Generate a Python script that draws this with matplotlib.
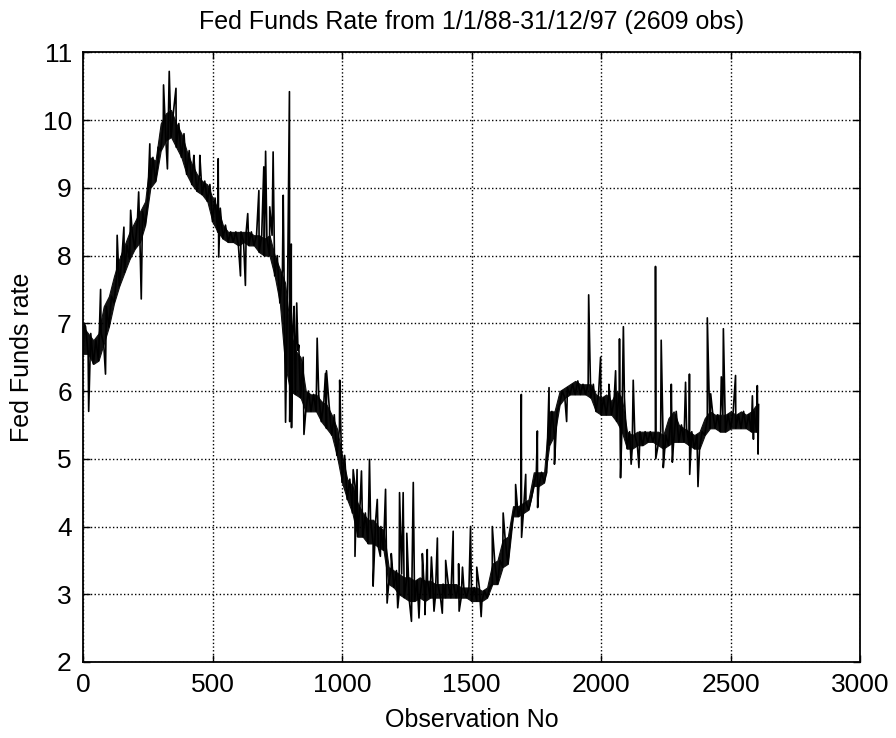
import matplotlib
matplotlib.use("Agg")
import matplotlib.pyplot as plt

plt.rcParams['font.family'] = ['Liberation Sans', 'DejaVu Sans']

title = "Fed Funds Rate from 1/1/88-31/12/97 (2609 obs)"
xlabel = "Observation No"
ylabel = "Fed Funds rate"
n_obs = 2609

# band of the daily series, read every 20 observations (lower, upper)
band_obs = list(range(0, 2601, 20))
band_lo = [6.55, 6.55, 6.40, 6.45, 6.70, 6.95, 7.30, 7.55, 7.75, 7.95,
           8.10, 8.20, 8.45, 9.00, 9.10, 9.55, 9.70, 9.75, 9.60, 9.45,
           9.20, 9.05, 8.95, 8.90, 8.80, 8.50, 8.35, 8.25, 8.20, 8.20,
           8.15, 8.20, 8.15, 8.15, 8.05, 8.00, 8.00, 7.70, 7.30, 6.40,
           6.00, 5.95, 5.90, 5.70, 5.70, 5.70, 5.55, 5.45, 5.35, 5.05,
           4.65, 4.40, 4.20, 3.85, 3.85, 3.75, 3.75, 3.70, 3.65, 3.15,
           3.10, 3.00, 2.95, 2.90, 2.90, 2.95, 2.90, 2.95, 2.95, 2.95,
           2.95, 2.95, 2.95, 2.95, 2.95, 2.90, 2.90, 2.90, 2.95, 3.15,
           3.15, 3.40, 3.45, 4.15, 4.15, 4.20, 4.25, 4.60, 4.60, 4.65,
           5.20, 5.35, 5.80, 5.90, 5.95, 5.95, 5.95, 5.95, 5.90, 5.70,
           5.65, 5.65, 5.65, 5.55, 5.40, 5.15, 5.15, 5.20, 5.20, 5.25,
           5.25, 5.20, 5.15, 5.20, 5.25, 5.25, 5.25, 5.20, 5.15, 5.15,
           5.35, 5.45, 5.45, 5.40, 5.40, 5.45, 5.45, 5.45, 5.45, 5.40,
           5.40]
band_hi = [6.95, 6.85, 6.75, 6.85, 7.25, 7.40, 7.70, 7.95, 8.15, 8.35,
           8.50, 8.65, 8.80, 9.45, 9.40, 9.95, 10.10, 10.15, 9.95, 9.80,
           9.55, 9.35, 9.20, 9.10, 9.05, 8.85, 8.70, 8.45, 8.35, 8.35,
           8.35, 8.35, 8.35, 8.30, 8.30, 8.25, 8.30, 8.00, 7.80, 7.60,
           6.90, 6.60, 6.50, 6.00, 5.95, 5.95, 5.85, 5.80, 5.65, 5.45,
           5.05, 4.70, 4.60, 4.35, 4.20, 4.10, 4.10, 4.00, 3.95, 3.40,
           3.35, 3.30, 3.25, 3.25, 3.20, 3.25, 3.20, 3.20, 3.15, 3.15,
           3.15, 3.15, 3.15, 3.10, 3.10, 3.10, 3.10, 3.05, 3.10, 3.45,
           3.50, 3.80, 3.85, 4.30, 4.30, 4.35, 4.40, 4.80, 4.80, 4.80,
           5.70, 5.70, 6.00, 6.05, 6.10, 6.15, 6.10, 6.10, 6.10, 5.95,
           5.90, 5.95, 5.85, 6.00, 5.90, 5.40, 5.35, 5.40, 5.40, 5.40,
           5.40, 5.40, 5.35, 5.60, 5.70, 5.50, 5.45, 5.40, 5.35, 5.40,
           5.60, 5.70, 5.65, 5.65, 5.65, 5.70, 5.65, 5.70, 5.65, 5.70,
           5.80]

# isolated daily spikes (observation, value)
spike_obs = [5, 22, 68, 87, 132, 158, 184, 215, 225, 258, 290, 311, 326, 333,
             359, 428, 451, 522, 524, 608, 627, 636, 679, 698, 705, 721, 734,
             773, 782, 797, 798, 804, 805, 815, 825, 833, 853, 904, 936, 940,
             991, 1043, 1050, 1058, 1075, 1106, 1120, 1136, 1148, 1168, 1174,
             1190, 1215, 1222, 1236, 1250, 1268, 1275, 1297, 1310, 1320, 1329,
             1345, 1355, 1368, 1387, 1400, 1429, 1450, 1452, 1465, 1496, 1520,
             1537, 1580, 1622, 1670, 1692, 1693, 1709, 1754, 1755, 1799, 1820,
             1867, 1952, 1998, 2030, 2056, 2071, 2075, 2086, 2116, 2124, 2146,
             2210, 2211, 2232, 2240, 2271, 2275, 2326, 2341, 2342, 2374, 2410,
             2423, 2464, 2472, 2519, 2584, 2588, 2603, 2606]
spike_val = [7.00, 5.70, 7.50, 6.25, 8.30, 8.42, 8.67, 8.94, 7.36, 9.65, 9.60,
             10.52, 9.28, 10.72, 10.47, 9.48, 9.48, 9.43, 7.98, 7.70, 7.56,
             8.62, 8.96, 9.31, 9.54, 8.72, 9.53, 8.89, 5.54, 10.42, 5.55, 8.17,
             5.46, 7.25, 7.30, 6.68, 5.36, 6.78, 6.26, 6.30, 6.16, 4.84, 3.56,
             4.84, 4.82, 4.99, 3.12, 4.40, 3.56, 4.55, 2.87, 3.60, 2.80, 4.50,
             4.50, 3.90, 2.60, 4.65, 2.65, 3.60, 2.70, 3.66, 3.55, 2.75, 3.83,
             2.72, 3.50, 3.93, 3.45, 2.75, 3.40, 4.00, 3.40, 2.67, 4.00, 4.20,
             4.62, 5.95, 3.84, 4.77, 5.41, 4.28, 6.05, 4.92, 5.55, 7.42, 6.50,
             6.10, 6.30, 6.77, 4.72, 6.95, 4.92, 6.16, 4.87, 7.84, 5.00, 6.75,
             4.87, 6.10, 4.95, 6.13, 6.25, 4.77, 4.59, 7.08, 5.96, 6.21, 6.92,
             6.23, 5.93, 5.29, 6.08, 5.07]

# assemble the daily path: lower then upper value in each 20-obs block, plus spikes
pts = []
for o, lo, hi in zip(band_obs, band_lo, band_hi):
    pts.append((o, lo))
    pts.append((min(o + 10, n_obs - 1), hi))
pts += list(zip(spike_obs, spike_val))
pts.sort(key=lambda p: p[0])
xs = [p[0] for p in pts]
ys = [p[1] for p in pts]

fig = plt.figure(figsize=(8.96, 7.38), dpi=100)
ax = fig.add_axes([0.0926, 0.103, 0.8674, 0.826])
ax.fill_between(band_obs, band_lo, band_hi, color='#111111', linewidth=0.8,
                edgecolor='#111111')
ax.plot(xs, ys, color='black', linewidth=1.2)

ax.set_xlim(0, 3000)
ax.set_ylim(2, 11)
ax.set_xticks(range(0, 3001, 500))
ax.set_yticks(range(2, 12))
ax.grid(True, color='black', linestyle=':', linewidth=1.0)
ax.tick_params(direction='in', top=True, right=True, labelsize=19, length=5,
               width=1, pad=8)
for s in ax.spines.values():
    s.set_linewidth(1.3)
ax.set_title(title, fontsize=18, pad=17)
ax.set_xlabel(xlabel, fontsize=18, labelpad=8)
ax.set_ylabel(ylabel, fontsize=18, labelpad=6)

fig.savefig("out.png", dpi=100)
